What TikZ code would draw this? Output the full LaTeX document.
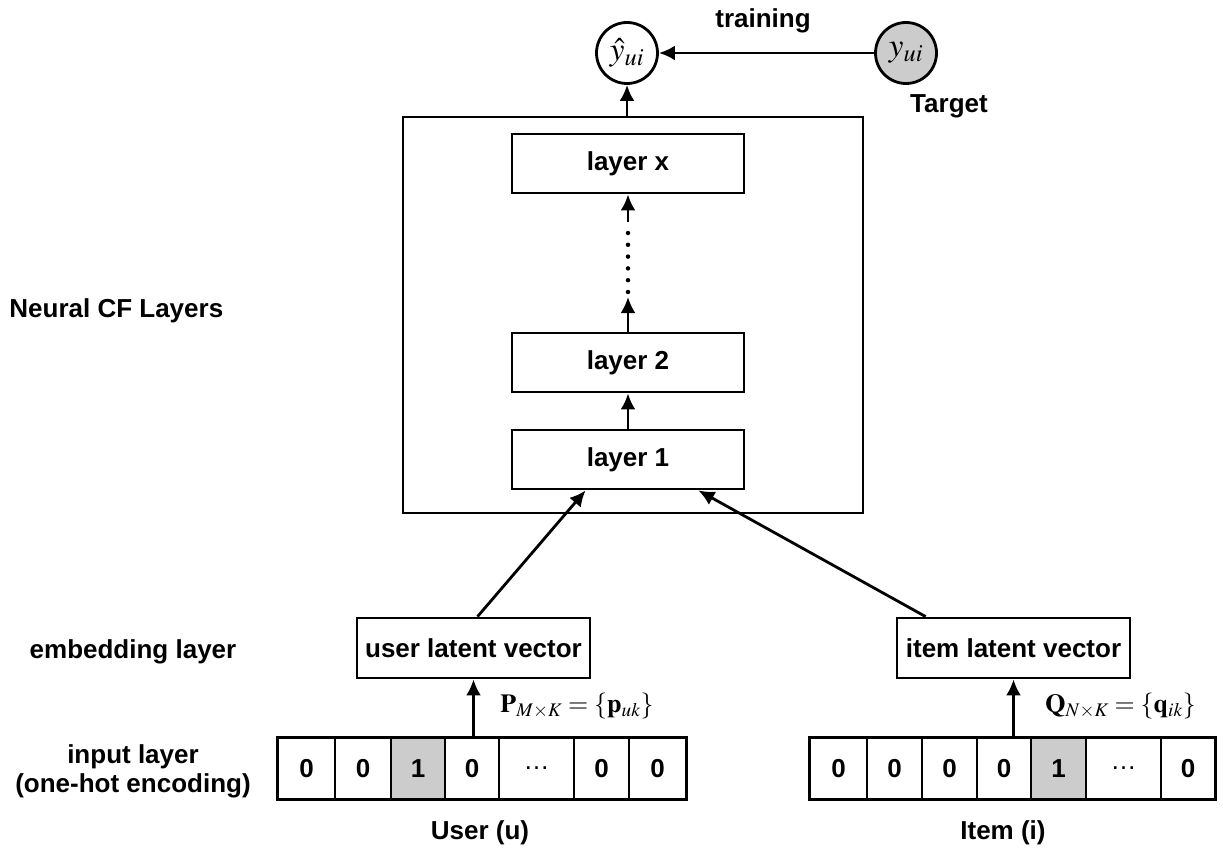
\documentclass[tikz,border=0pt]{standalone}
\usepackage{mathptmx}
\usepackage[no-math]{fontspec}
\setmainfont{Liberation Sans}
\usetikzlibrary{arrows.meta,calc}
\newcommand\dlabelfont{\fontsize{26}{29}\selectfont\bfseries}
\newcommand\dmathfont{\fontsize{26}{29}\selectfont}
\newcommand\dcirclefont{\fontsize{33}{36}\selectfont}
\begin{document}
\begin{tikzpicture}[x=1pt,y=-1pt,
  line width=2.8pt,
  arr/.style={-{Latex[length=16pt,width=15pt]}},
  lbl/.style={font=\dlabelfont, inner sep=0pt},
  layerbox/.style={draw, line width=2.8pt, minimum width=232pt, minimum height=59pt, inner sep=0pt, font=\dlabelfont},
  latbox/.style={draw, line width=2.8pt, minimum width=233pt, minimum height=60pt, inner sep=0pt, font=\dlabelfont},
  cell/.style={draw, line width=1.4pt, minimum width=#1, minimum height=61pt, inner sep=0pt, font=\dlabelfont},
  hot/.style={fill=gray!40},
  circ/.style={draw, circle, line width=2.8pt, minimum size=61pt, inner sep=0pt, font=\dcirclefont},
  dots/.style={line width=4.5pt, line cap=round, dash pattern=on 0pt off 11.8pt}
]
\useasboundingbox (0,0) rectangle (1223,853);

% target / prediction
\node[circ] (yhat) at (627,53) {$\hat{y}_{ui}$};
\node[circ, fill=gray!40] (y) at (906,53) {$y_{ui}$};
\node[lbl] (train) at (763,21) {training};
\node[lbl] (target) at (949,106) {Target};
\draw[arr] (y) -- (yhat);

% Neural CF block
\node[draw, line width=2.8pt, minimum width=460pt, minimum height=396pt, inner sep=0pt] (cf) at (633,315) {};
\node[layerbox] (lx) at (628,163.5) {layer x};
\node[layerbox] (l2) at (628,362.5) {layer 2};
\node[layerbox] (l1) at (628,459.5) {layer 1};
\coordinate (dA) at (628,297);
\coordinate (dB) at (628,292);
\coordinate (dC) at (628,233);
\coordinate (dD) at (628,222);
\draw[arr] (l1) -- (l2);
\draw[arr] (l2) -- (dA);
\draw[dots] (dB) -- (dC);
\draw[arr] (dD) -- (lx.south);
\draw[arr] (yhat.south |- cf.north) -- (yhat.south);

% left labels
\node[lbl, anchor=west] (ncf) at (8,311) {Neural CF Layers};
\node[lbl] (emb) at (133,652) {embedding layer};
\node[lbl, align=center] (inp) at (133,771) {input layer\\(one-hot encoding)};

% embedding boxes
\node[latbox] (ulat) at (473.5,648) {user latent vector};
\node[latbox] (ilat) at (1013.5,648) {item latent vector};

% user one-hot row
\node[cell=57pt] (u1) at (306.5,768.5) {0};
\node[cell=56pt] (u2) at (363,768.5) {0};
\node[cell=54pt, hot] (u3) at (418,768.5) {1};
\node[cell=54pt] (u4) at (472,768.5) {0};
\node[cell=75pt] (u5) at (536.5,768.5) {\textmd{\dots}};
\node[cell=55pt] (u6) at (601.5,768.5) {0};
\node[cell=57pt] (u7) at (657.5,768.5) {0};
\draw (u1.north west) rectangle (u7.south east);

% item one-hot row
\node[cell=57pt] (i1) at (838.5,768.5) {0};
\node[cell=55pt] (i2) at (894.5,768.5) {0};
\node[cell=55pt] (i3) at (949.5,768.5) {0};
\node[cell=54pt] (i4) at (1004,768.5) {0};
\node[cell=55pt, hot] (i5) at (1058.5,768.5) {1};
\node[cell=75pt] (i6) at (1123.5,768.5) {\textmd{\dots}};
\node[cell=54pt] (i7) at (1188,768.5) {0};
\draw (i1.north west) rectangle (i7.south east);

% embedding arrows
\draw[arr] (ulat.south |- u1.north) -- (ulat.south);
\draw[arr] (ilat.south |- i1.north) -- (ilat.south);
\node[font=\dmathfont, anchor=west, inner sep=0pt] (pl) at (499,706) {$\mathbf{P}_{M\times K}=\{\mathbf{p}_{uk}\}$};
\node[font=\dmathfont, anchor=west, inner sep=0pt] (ql) at (1044,706) {$\mathbf{Q}_{N\times K}=\{\mathbf{q}_{ik}\}$};

% to layer 1
\draw[arr] ($(ulat.north)+(4,0)$) -- ($(l1.south west)+(75,0)$);
\draw[arr] ($(ilat.north west)+(30,0)$) -- ($(l1.south east)+(-47,0)$);

% bottom labels
\node[lbl] (ulbl) at (480,833) {User (u)};
\node[lbl] (ilbl) at (1003,833) {Item (i)};
\end{tikzpicture}
\end{document}
